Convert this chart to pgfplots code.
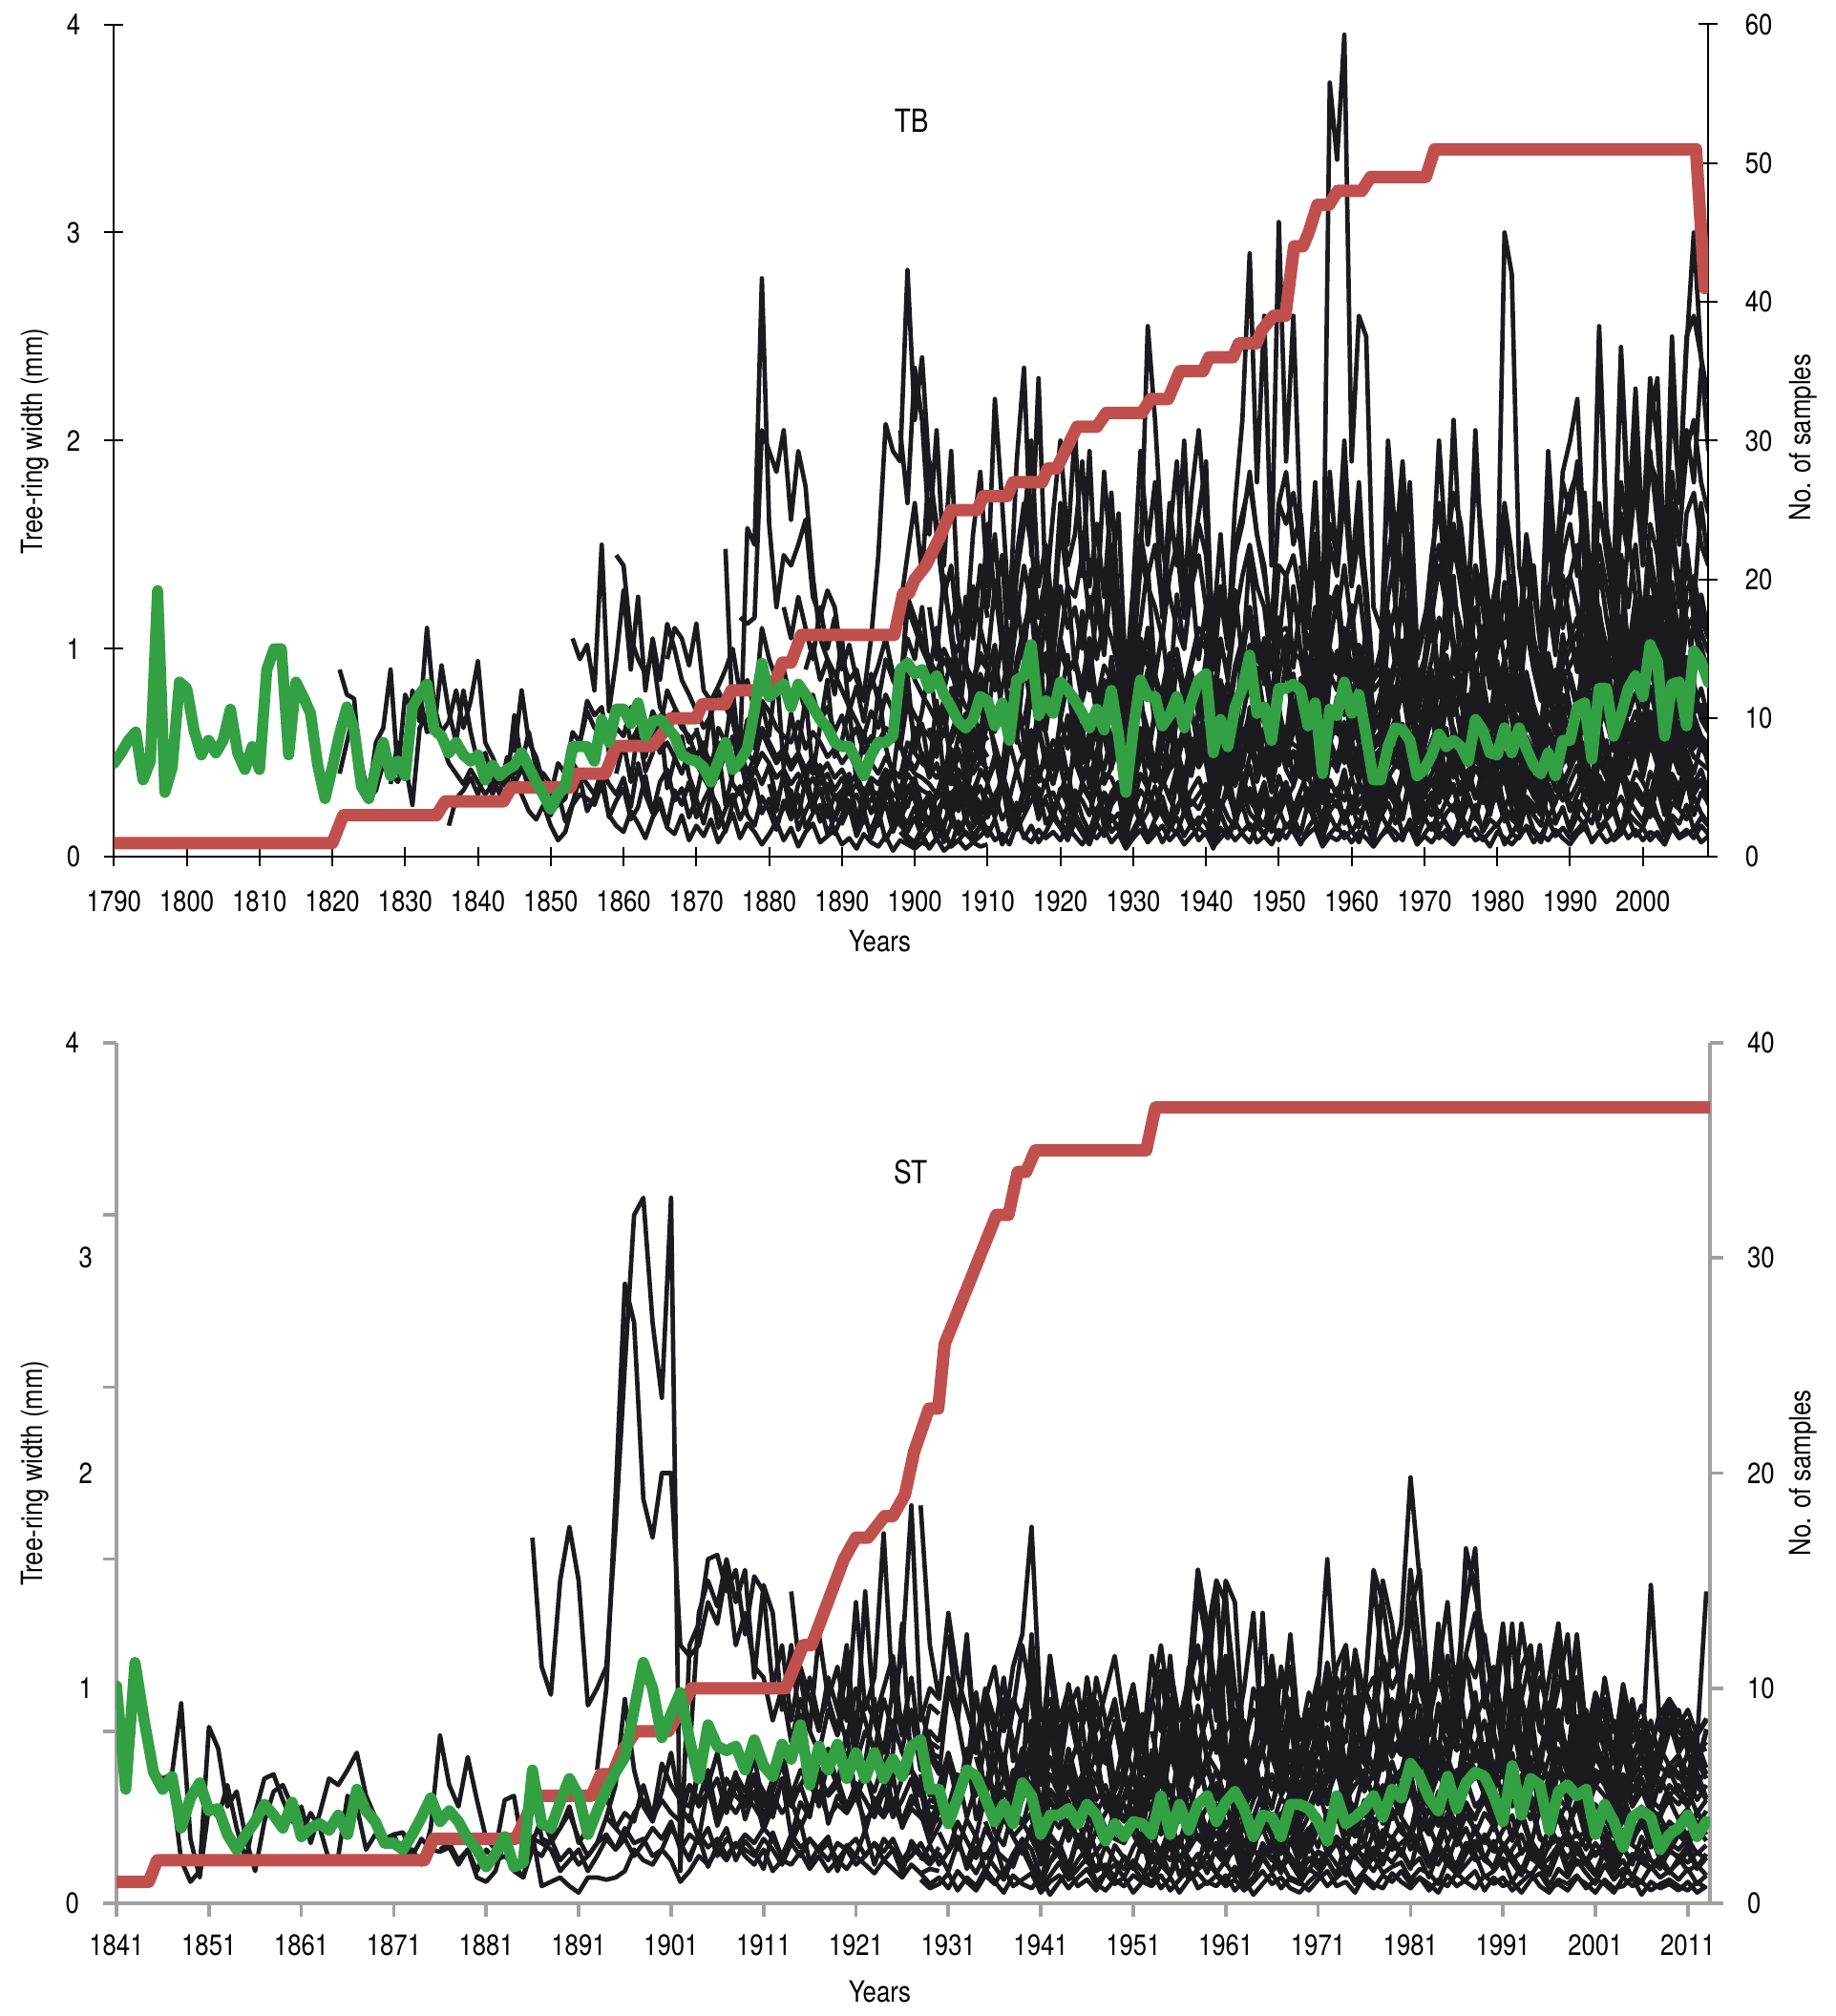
\documentclass[border=0pt]{standalone}
\usepackage{fontspec}
\setmainfont{TeX Gyre Heros}[FakeStretch=0.84]
\usepackage{pgfplots}
\usepackage{pgfplotstable}
\pgfplotsset{compat=1.18}
\definecolor{redc}{RGB}{192,80,77}
\definecolor{greenc}{RGB}{51,160,68}
\definecolor{blk}{RGB}{27,27,31}
\definecolor{gax}{RGB}{160,160,160}
\newcommand{\tf}{\fontsize{9.2}{11}\selectfont}

% ---------- TB: early series (rows = series, columns = years 1821-1910)
\pgfplotstableread[header=true]{
name 1821 1822 1823 1824 1825 1826 1827 1828 1829 1830 1831 1832 1833 1834 1835 1836 1837 1838 1839 1840 1841 1842 1843 1844 1845 1846 1847 1848 1849 1850 1851 1852 1853 1854 1855 1856 1857 1858 1859 1860 1861 1862 1863 1864 1865 1866 1867 1868 1869 1870 1871 1872 1873 1874 1875 1876 1877 1878 1879 1880 1881 1882 1883 1884 1885 1886 1887 1888 1889 1890 1891 1892 1893 1894 1895 1896 1897 1898 1899 1900 1901 1902 1903 1904 1905 1906 1907 1908 1909 1910
a 0.90 0.78 0.76 0.35 0.30 0.55 0.62 0.90 0.40  0.78 0.70 0.78 0.60 0.62 0.92 0.70 0.55 0.80 0.60  0.45 0.50 0.38 0.30 0.48 0.40 0.45 0.32 0.38 0.30  0.22 0.25 0.28 0.45 0.40 0.35 0.30 0.42 0.35 0.30  0.38 0.24 0.45 0.30 0.21 0.36 0.42 0.27 0.33 0.19  0.28 0.16 0.31 0.24 0.12 0.26 0.34 0.20 0.15 0.29  0.22 0.13 0.27 0.18 0.30 0.14 0.21 0.25 0.11 0.19  0.16 0.24 0.10 0.18 0.13 0.22 0.08 0.15 0.20 0.12  0.19 0.09 0.14 0.21 0.07 0.16 0.12 0.18 0.10 0.15  0.13
b 0.40 0.55 0.70 0.45 0.28 0.32 0.45 0.40 0.36  0.45 0.25 0.62 0.68 0.65 0.55 0.45 0.40 0.35 0.42  0.36 0.30 0.35 0.42 0.32 0.38 0.30 0.22 0.18 0.25  0.15 0.08 0.12 0.25 0.30 0.28 0.25 0.35 0.20 0.15  0.12 0.22 0.16 0.09 0.19 0.25 0.14 0.11 0.20 0.08  0.15 0.10 0.18 0.07 0.13 0.21 0.09 0.16 0.12 0.06  0.11 0.17 0.08 0.14 0.05 0.12 0.16 0.07 0.10 0.13  0.06 0.09 0.04 0.11 0.07 0.05 0.10 0.03 0.08 0.06  0.04 0.07 0.05 0.09 0.03 0.06 0.08 0.04 0.07 0.05  0.06
c nan nan nan nan nan nan nan 0.35 0.55  0.38 0.80 0.65 1.10 0.72 0.60 0.65 0.80 0.62 0.75  0.94 0.55 0.48 0.40 0.35 0.68 0.45 0.60 0.42 0.40  0.35 0.30 0.38 0.48 0.55 0.70 0.62 0.60 0.55 0.68  0.72 0.55 0.62 0.48 0.62 0.50 0.55 0.48 0.40 0.52  0.45 0.38 0.32 0.40 0.50 0.35 0.30 0.38 0.42 0.50  0.45 0.38 0.42 0.35 0.40 0.32 0.38 0.30 0.35 0.28  0.32 0.25 0.30 0.22 0.28 0.25 0.30 0.26 0.22 0.32  0.28 0.25 0.30 0.22 0.25 0.20 0.28 0.24 0.30 0.26  0.22
d nan nan nan nan nan nan nan nan nan  nan nan nan nan nan nan 0.15 0.28 0.32 0.38  0.30 0.42 0.30 0.38 0.45 0.35 0.42 0.38 0.32 0.28  0.20 0.31 0.17 0.26 0.38 0.22 0.29 0.41 0.19 0.27  0.33 0.18 0.24 0.39 0.21 0.28 0.15 0.32 0.25 0.36  0.19 0.27 0.34 0.14 0.23 0.30 0.18 0.26 0.37 0.21  0.28 0.16 0.24 0.32 0.13 0.22 0.29 0.17 0.25 0.11  0.20 0.27 0.14 0.23 0.09 0.18 0.26 0.12 0.21 0.16  0.24 0.13 0.19 0.08 0.17 0.22 0.11 0.18 0.14 0.20  0.12
e nan nan nan nan nan nan nan nan nan  nan nan nan nan nan nan nan nan nan nan  nan nan nan nan nan 0.50 0.80 0.55 0.48 0.35  0.30 0.45 0.40 0.60 0.55 0.75 0.68 0.72 0.50 0.62  0.58 0.72 0.65 0.55 0.70 0.62 0.80 0.72 0.65 0.55  0.60 0.52 0.45 0.55 0.48 0.58 0.42 0.50 0.45 0.62  0.55 0.48 0.52 0.45 0.50 0.42 0.48 0.40 0.45 0.38  0.42 0.35 0.40 0.30 0.38 0.35 0.42 0.38 0.32 0.45  0.40 0.38 0.35 0.30 0.38 0.35 0.42 0.36 0.32 0.40  0.38
f nan nan nan nan nan nan nan nan nan  nan nan nan nan nan nan nan nan nan nan  nan nan nan nan nan nan nan nan nan nan  nan nan nan 1.05 0.95 1.02 0.80 1.50 0.70 0.95  1.28 0.90 1.25 0.80 1.05 0.85 1.12 1.00 0.85 0.78  0.70 0.62 0.68 0.80 0.72 0.65 0.55 0.62 0.58 0.75  0.70 0.62 0.58 0.55 0.65 0.52 0.60 0.55 0.48 0.52  0.45 0.50 0.42 0.38 0.45 0.40 0.48 0.42 0.38 0.55  0.50 0.45 0.42 0.38 0.45 0.40 0.48 0.44 0.40 0.46  0.42
g nan nan nan nan nan nan nan nan nan  nan nan nan nan nan nan nan nan nan nan  nan nan nan nan nan nan nan nan nan nan  nan nan nan nan nan nan nan nan nan 1.45  1.40 1.05 0.95 0.88 0.98 0.72 0.65 0.70 0.62 0.58  0.48 0.55 0.40 0.62 0.55 0.45 0.52 0.40 0.48 0.60  0.52 0.45 0.50 0.42 0.48 0.38 0.45 0.35 0.40 0.32  0.38 0.30 0.35 0.28 0.32 0.30 0.35 0.30 0.28 0.40  0.35 0.32 0.30 0.28 0.32 0.30 0.35 0.30 0.28 0.33  0.30
h nan nan nan nan nan nan nan nan nan  nan nan nan nan nan nan nan nan nan nan  nan nan nan nan nan nan nan nan nan nan  nan nan nan nan nan nan nan nan nan 0.40  0.55 0.36 0.62 0.41 0.50 0.68 0.33 0.47 0.58 0.39  0.29 0.46 0.37 0.52 0.25 0.40 0.48 0.31 0.43 0.35  0.44 0.27 0.38 0.21 0.35 0.42 0.24 0.33 0.19 0.30  0.23 0.36 0.17 0.28 0.32 0.20 0.39 0.26 0.15 0.34  0.27 0.18 0.31 0.22 0.14 0.29 0.24 0.35 0.19 0.26  0.21
i nan nan nan nan nan nan nan nan nan  nan nan nan nan nan nan nan nan nan nan  nan nan nan nan nan nan nan nan nan nan  nan nan nan nan nan nan nan nan nan nan  nan nan nan nan nan nan 0.95 1.10 1.05 0.92  1.12 0.80 0.75 0.82 0.90 1.00 0.78 0.85 0.70 1.10  0.95 0.85 0.90 0.75 0.82 0.70 0.78 0.65 0.72 0.60  0.68 0.55 0.62 0.50 0.58 0.55 0.62 0.58 0.52 0.75  0.68 0.62 0.58 0.52 0.60 0.55 0.65 0.58 0.52 0.62  0.56
j nan nan nan nan nan nan nan nan nan  nan nan nan nan nan nan nan nan nan nan  nan nan nan nan nan nan nan nan nan nan  nan nan nan nan nan nan nan nan nan nan  nan nan nan nan nan nan nan nan nan nan  nan nan nan nan 1.48 0.65 0.50 1.58 1.50 2.78  1.60 1.20 1.45 1.40 1.50 1.62 1.25 1.15 1.28 1.20  0.95 0.85 0.90 0.75 0.82 0.92 1.05 0.88 0.80 1.20  1.10 1.00 0.92 0.85 0.95 0.88 0.80 0.92 0.85 0.95  0.90
k nan nan nan nan nan nan nan nan nan  nan nan nan nan nan nan nan nan nan nan  nan nan nan nan nan nan nan nan nan nan  nan nan nan nan nan nan nan nan nan nan  nan nan nan nan nan nan nan nan nan nan  nan nan nan nan nan nan 1.15 1.12 1.15 2.05  1.95 1.85 2.05 1.62 1.95 1.78 1.35 1.05 0.95 0.88  0.80 0.72 0.65 0.58 0.70 0.62 0.78 0.70 0.65 0.95  0.85 0.78 0.72 0.65 0.75 0.70 0.80 0.72 0.68 0.74  0.70
l nan nan nan nan nan nan nan nan nan  nan nan nan nan nan nan nan nan nan nan  nan nan nan nan nan nan nan nan nan nan  nan nan nan nan nan nan nan nan nan nan  nan nan nan nan nan nan nan nan nan nan  nan nan nan nan nan nan nan nan nan nan  nan nan 1.20 1.05 1.25 1.10 0.95 1.20 1.00 1.15  0.90 1.02 0.85 0.78 1.05 1.45 2.08 1.95 1.90 2.82  2.10 2.40 1.85 1.60 1.30 1.10 1.25 1.05 1.20 1.35  1.15
m nan nan nan nan nan nan nan nan nan  nan nan nan nan nan nan nan nan nan nan  nan nan nan nan nan nan nan nan nan nan  nan nan nan nan nan nan nan nan nan nan  nan nan nan nan nan nan nan nan nan nan  nan nan nan nan nan nan nan nan nan nan  nan nan nan nan nan 0.35 0.22 0.44 0.28 0.18  0.31 0.40 0.19 0.26 0.36 0.15 0.29 0.43 0.21 0.33  0.38 0.24 0.16 0.30 0.41 0.20 0.27 0.34 0.17 0.25  0.29
n nan nan nan nan nan nan nan nan nan  nan nan nan nan nan nan nan nan nan nan  nan nan nan nan nan nan nan nan nan nan  nan nan nan nan nan nan nan nan nan nan  nan nan nan nan nan nan nan nan nan nan  nan nan nan nan nan nan nan nan nan nan  nan nan nan nan nan 0.90 1.02 0.85 0.95 0.78  1.05 0.70 0.82 0.65 0.88 0.75 0.95 0.85 0.78 1.25  1.15 1.05 0.95 0.88 1.00 0.92 1.02 0.90 0.85 0.98  0.92
o nan nan nan nan nan nan nan nan nan  nan nan nan nan nan nan nan nan nan nan  nan nan nan nan nan nan nan nan nan nan  nan nan nan nan nan nan nan nan nan nan  nan nan nan nan nan nan nan nan nan nan  0.62 0.45 0.71 0.38 0.55 0.80 0.47 0.66 0.52 0.74  0.58 0.90 0.43 0.69 0.51 0.77 0.40 0.63 0.85 0.48  0.56 0.72 0.35 0.60 0.46 0.81 0.53 0.39 0.67 0.88  0.50 0.64 0.42 0.75 0.37 0.59 0.70 0.45 0.62 0.54  0.48
p nan nan nan nan nan nan nan nan nan  nan nan nan nan nan nan nan nan nan nan  nan nan nan nan nan nan nan nan nan nan  nan nan nan nan nan nan nan nan nan nan  nan nan nan nan nan nan nan nan nan nan  nan nan nan nan nan nan nan nan nan nan  0.35 0.22 0.41 0.28 0.19 0.37 0.25 0.44 0.30 0.18  0.26 0.39 0.15 0.33 0.21 0.29 0.42 0.17 0.31 0.24  0.36 0.20 0.27 0.13 0.32 0.23 0.38 0.19 0.28 0.34  0.22
}\TAraw
\pgfplotstabletranspose[colnames from=name]{\TA}{\TAraw}

% ---------- TB: later series (years 1898-2009)
\pgfplotstableread[header=true]{
name 1898 1899 1900 1901 1902 1903 1904 1905 1906 1907 1908 1909 1910 1911 1912 1913 1914 1915 1916 1917 1918 1919 1920 1921 1922 1923 1924 1925 1926 1927 1928 1929 1930 1931 1932 1933 1934 1935 1936 1937 1938 1939 1940 1941 1942 1943 1944 1945 1946 1947 1948 1949 1950 1951 1952 1953 1954 1955 1956 1957 1958 1959 1960 1961 1962 1963 1964 1965 1966 1967 1968 1969 1970 1971 1972 1973 1974 1975 1976 1977 1978 1979 1980 1981 1982 1983 1984 1985 1986 1987 1988 1989 1990 1991 1992 1993 1994 1995 1996 1997 1998 1999 2000 2001 2002 2003 2004 2005 2006 2007 2008 2009
q1 2.05 1.70  2.35 2.10 1.55 2.05 1.40 1.95 1.20 1.05 1.55 1.85  1.30 2.20 1.70 1.15 1.90 2.35 1.45 2.30 1.25 1.65  2.00 1.50 2.05 1.35 1.95 1.20 1.85 1.40 1.65 0.85  1.30 1.95 1.50 1.80 1.15 1.55 1.90 1.25 1.75 2.05  1.60 1.10 1.55 1.05 1.70 2.10 2.90 1.80 2.60 1.40  3.05 1.90 2.60 1.55 1.25 1.80 1.05 1.85 1.40 2.00  1.35 1.80 1.20 0.85 1.00 1.85 1.20 1.75 1.10 0.95  1.10 1.45 1.70 1.30 2.10 1.40 1.15 2.05 1.30 1.05  1.25 1.65 1.10 0.95 1.45 1.05 0.90 1.70 1.25 1.85  2.00 2.20 1.45 1.10 2.50 1.55 1.25 2.40 1.60 2.25  1.50 2.10 2.30 1.35 2.50 1.70 2.45 3.00 2.40 2.20
q2 1.20 1.45  1.70 1.35 1.90 1.55 1.25 1.40 1.05 0.95 1.30 1.10  1.60 1.25 1.45 0.90 1.35 1.60 2.00 1.30 1.50 1.15  1.70 1.40 1.55 1.90 1.30 1.60 1.25 1.75 1.20 0.70  1.10 1.55 1.35 1.50 1.20 1.70 1.40 2.00 1.30 1.60  1.45 0.95 1.30 1.05 1.50 1.65 1.80 1.55 1.35 1.10  1.70 1.85 1.50 1.65 1.20 1.55 0.95 3.72 3.35 3.95  1.90 2.60 2.50 1.20 1.10 1.45 1.65 1.30 1.55 1.00  1.15 1.30 1.50 1.25 1.60 1.35 1.10 1.40 1.20 0.95  1.25 1.05 1.35 0.90 1.15 1.40 1.00 1.30 1.10 1.45  1.60 1.35 1.75 1.20 1.50 1.30 1.10 1.65 1.45 1.80  1.40 1.95 1.60 1.15 1.70 1.50 2.05 1.80 2.35 nan
q3 nan nan  nan nan 1.20 0.95 1.35 1.05 0.80 0.90 0.75 1.10  0.95 1.30 1.00 0.85 1.15 1.40 1.20 1.05 1.25 0.95  1.30 1.10 1.20 1.00 1.25 0.95 1.15 1.05 0.90 0.50  0.95 1.40 2.55 2.10 1.50 1.25 1.10 1.00 1.30 1.45  1.20 0.75 1.05 0.85 1.15 1.35 1.50 1.30 1.20 0.90  1.40 1.35 1.45 1.25 1.00 1.20 0.72 1.25 1.15 1.40  1.10 1.30 1.00 0.70 0.75 1.05 1.20 1.15 1.05 0.72  0.80 0.95 1.15 1.00 1.25 1.10 0.90 1.20 1.00 0.85  1.05 1.25 1.00 0.80 1.10 0.90 0.75 1.20 1.00 1.30  1.35 1.50 1.10 0.90 1.40 1.15 0.95 1.45 1.20 1.50  1.10 1.60 1.45 0.95 1.55 1.20 1.65 1.75 1.50 1.40
q4 0.85 1.05  0.95 1.20 0.88 1.10 0.80 0.95 0.70 0.62 0.85 0.72  0.90 0.80 1.05 0.65 0.95 1.10 1.25 0.85 0.98 0.78  1.05 0.90 0.95 0.82 1.00 0.75 0.92 0.85 0.70 0.40  0.80 1.05 0.95 0.88 0.75 0.92 1.00 0.80 0.95 1.10  1.05 0.60 0.85 0.70 0.92 1.05 1.20 1.00 0.95 0.72  1.08 1.10 1.02 1.00 0.80 0.95 0.55 1.00 0.92 1.10  0.90 1.02 0.82 0.56 0.60 0.82 0.95 0.92 0.85 0.58  0.64 0.76 0.90 0.80 0.98 0.85 0.70 0.92 0.78 0.65  0.80 0.95 0.75 0.62 0.85 0.70 0.58 0.90 0.78 0.98  1.05 1.15 0.85 0.70 1.10 0.90 0.75 1.12 0.95 1.20  0.88 1.25 1.10 0.72 1.20 0.95 1.28 1.35 1.15 1.05
q5 0.62 0.78  0.55 0.70 0.92 0.66 0.58 0.80 0.74 0.50 0.68 0.88  0.76 0.60 0.82 0.95 0.70 0.64 0.86 0.58 0.72 1.00  0.66 0.84 0.56 0.78 0.90 0.68 0.62 0.96 0.74 0.35  0.58 0.72 0.90 0.64 0.80 0.98 0.70 0.60 0.86 0.76  0.92 0.42 0.66 0.78 0.58 0.84 1.02 0.72 0.64 0.80  0.70 0.94 0.62 0.86 0.74 0.56 0.40 0.88 0.96 0.68  0.82 0.60 0.76 0.44 0.52 0.90 0.66 0.80 0.58 0.42  0.70 0.84 0.60 0.92 0.68 0.78 0.54 0.86 0.72 0.62  0.94 0.66 0.78 0.56 0.84 0.70 0.50 0.76 0.90 0.64  0.88 0.74 0.96 0.62 0.80 1.02 0.68 0.84 0.72 1.05  0.78 0.92 1.10 0.64 0.86 1.00 0.74 1.15 0.90 0.82
q6 0.55 0.42  0.62 0.48 0.40 0.58 0.70 0.45 0.52 0.38 0.60 0.46  0.66 0.54 0.42 0.72 0.58 0.48 0.80 0.62 0.44 0.56  0.50 0.68 0.60 0.46 0.52 0.74 0.58 0.42 0.64 0.25  0.45 0.62 0.50 0.70 0.56 0.44 0.66 0.74 0.52 0.60  0.48 0.30 0.58 0.50 0.64 0.46 0.72 0.56 0.62 0.40  0.66 0.52 0.74 0.48 0.60 0.70 0.32 0.56 0.64 0.50  0.70 0.54 0.46 0.30 0.38 0.58 0.66 0.48 0.60 0.34  0.42 0.56 0.64 0.50 0.44 0.62 0.70 0.48 0.58 0.40  0.52 0.66 0.44 0.36 0.58 0.50 0.40 0.62 0.54 0.70  0.60 0.48 0.72 0.52 0.66 0.46 0.56 0.74 0.62 0.58  0.68 0.54 0.80 0.50 0.62 0.76 0.58 0.84 0.66 0.60
q7 0.40 0.48  0.42 0.50 0.38 0.45 0.32 0.40 0.30 0.35 0.28 0.42  0.36 0.45 0.40 0.28 0.42 0.50 0.55 0.40 0.45 0.35  0.48 0.40 0.46 0.36 0.42 0.32 0.40 0.38 0.30 0.16  0.34 0.48 0.44 0.40 0.34 0.42 0.46 0.38 0.44 0.50  0.46 0.26 0.40 0.32 0.44 0.48 0.54 0.46 0.44 0.34  0.50 0.52 0.48 0.46 0.37 0.44 0.26 0.46 0.42 0.52  0.40 0.47 0.38 0.26 0.28 0.38 0.44 0.42 0.40 0.27  0.30 0.35 0.42 0.37 0.45 0.40 0.32 0.43 0.36 0.30  0.37 0.44 0.34 0.28 0.40 0.33 0.27 0.42 0.36 0.45  0.48 0.52 0.40 0.32 0.50 0.42 0.35 0.52 0.44 0.55  0.40 0.56 0.50 0.34 0.54 0.44 0.58 0.60 0.52 0.48
q8 0.18 0.26  0.31 0.20 0.14 0.22 0.28 0.17 0.12 0.19 0.25 0.15  0.21 0.30 0.18 0.24 0.13 0.20 0.27 0.33 0.16 0.22  0.14 0.25 0.31 0.19 0.12 0.23 0.29 0.17 0.21 0.09  0.26 0.16 0.22 0.34 0.20 0.13 0.24 0.30 0.18 0.15  0.23 0.11 0.27 0.19 0.14 0.32 0.21 0.17 0.28 0.12  0.20 0.29 0.15 0.24 0.33 0.18 0.10 0.22 0.27 0.16  0.25 0.14 0.30 0.12 0.19 0.26 0.16 0.23 0.31 0.11  0.18 0.28 0.13 0.21 0.25 0.15 0.30 0.19 0.14 0.24  0.29 0.17 0.22 0.12 0.26 0.20 0.15 0.32 0.18 0.23  0.14 0.27 0.21 0.16 0.30 0.19 0.25 0.13 0.28 0.22  0.17 0.31 0.20 0.14 0.26 0.23 0.18 0.29 0.21 0.16
q9 0.12 0.08  0.06 0.11 0.04 0.09 0.13 0.05 0.08 0.12 0.07 0.10  0.14 0.08 0.11 0.06 0.16 0.10 0.07 0.13 0.09 0.12  0.08 0.15 0.10 0.06 0.12 0.09 0.14 0.07 0.11 0.04  0.09 0.13 0.07 0.11 0.15 0.08 0.12 0.06 0.10 0.14  0.11 0.05 0.09 0.13 0.08 0.12 0.16 0.07 0.10 0.06  0.13 0.09 0.15 0.07 0.11 0.14 0.05 0.10 0.08 0.12  0.07 0.12 0.09 0.05 0.10 0.13 0.08 0.11 0.14 0.06  0.10 0.07 0.12 0.09 0.06 0.11 0.13 0.08 0.10 0.05  0.12 0.09 0.06 0.10 0.14 0.07 0.11 0.08 0.13 0.09  0.06 0.11 0.14 0.08 0.12 0.07 0.10 0.15 0.09 0.13  0.08 0.12 0.10 0.06 0.14 0.09 0.11 0.13 0.07 0.10
q10 nan nan  nan nan nan nan nan 1.10 0.85 1.25 1.05 1.40  1.20 1.55 1.10 0.95 1.45 1.70 1.50 1.15 1.35 1.05  1.60 1.30 1.25 1.45 1.15 1.35 1.05 1.50 1.10 0.60  1.05 1.45 1.30 1.20 1.05 1.35 1.50 1.15 1.40 1.65  1.90 0.90 1.25 1.00 1.45 1.60 1.85 1.55 1.40 1.05  1.70 1.60 1.75 1.50 1.20 1.45 0.85 1.50 1.35 1.75  1.30 1.55 1.20 0.80 0.85 1.25 1.45 1.90 1.35 0.85  0.95 1.15 1.40 1.20 1.50 1.30 1.05 1.40 1.25 1.00  1.20 3.00 2.80 1.40 1.15 1.30 1.00 1.55 1.25 1.60  1.75 1.85 1.40 1.10 1.70 1.45 1.20 1.80 1.55 1.95  1.45 1.90 1.80 1.20 1.85 1.55 1.95 2.10 1.80 1.65
q11 nan nan  nan nan nan nan nan 0.75 0.60 0.50 0.72 0.85  0.65 0.95 0.70 0.55 0.90 1.05 1.20 0.80 0.95 0.70  1.00 0.88 0.95 0.75 0.90 0.70 0.85 0.80 0.62 0.35  0.70 1.00 0.92 0.85 0.72 0.90 0.95 0.78 0.92 1.05  1.00 0.55 0.80 0.65 0.88 1.00 1.15 0.95 0.90 0.68  1.02 1.05 0.98 0.95 0.76 0.90 0.52 0.95 0.88 1.05  0.85 0.96 0.78 0.52 0.56 0.78 0.90 0.88 0.80 0.54  0.60 0.72 0.86 0.76 0.92 0.80 0.66 0.88 0.74 0.62  0.76 0.90 0.72 0.60 0.82 0.68 0.56 0.86 0.74 0.92  1.00 1.08 0.80 0.66 1.05 0.85 0.70 1.06 0.90 1.12  0.82 1.18 1.04 0.70 1.12 0.90 1.20 1.26 1.08 0.98
q12 nan nan  nan nan nan nan nan nan nan nan nan nan  nan nan nan nan nan 0.55 0.40 0.62 0.48 0.35  0.52 0.66 0.44 0.58 0.38 0.50 0.70 0.46 0.56 0.22  0.42 0.60 0.48 0.36 0.54 0.68 0.45 0.58 0.40 0.52  0.64 0.28 0.48 0.56 0.40 0.62 0.50 0.70 0.44 0.34  0.58 0.46 0.66 0.52 0.40 0.60 0.26 0.54 0.68 0.48  0.56 0.42 0.62 0.30 0.36 0.50 0.64 0.44 0.58 0.28  0.40 0.54 0.46 0.62 0.38 0.52 0.44 0.66 0.50 0.36  0.58 0.48 0.40 0.30 0.54 0.44 0.34 0.60 0.46 0.62  0.52 0.66 0.44 0.38 0.60 0.50 0.42 0.68 0.56 0.64  0.48 0.70 0.58 0.40 0.66 0.52 0.72 0.62 0.56 0.50
q13 nan nan  nan nan nan nan nan nan nan nan nan nan  nan nan nan nan nan nan nan nan nan nan  nan nan nan nan nan nan nan nan nan nan  0.40 0.55 0.48 0.42 0.38 0.45 0.50 0.40 0.48 0.55  0.52 0.30 0.44 0.36 0.50 0.56 0.62 0.52 0.50 0.38  0.56 0.58 0.54 0.52 0.42 0.50 0.30 0.52 0.48 0.58  0.46 0.53 0.43 0.29 0.31 0.43 0.50 0.48 0.45 0.30  0.33 0.40 0.47 0.42 0.50 0.45 0.36 0.48 0.40 0.34  0.42 0.50 0.38 0.32 0.45 0.37 0.30 0.47 0.40 0.50  0.54 0.58 0.45 0.36 0.56 0.47 0.39 0.58 0.50 0.62  0.45 0.62 0.56 0.38 0.60 0.48 0.64 0.68 0.58 0.54
q14 nan nan  nan nan nan nan nan nan nan nan nan nan  nan nan nan nan nan nan nan nan nan nan  nan nan nan nan nan nan nan nan nan nan  nan nan nan nan nan nan nan nan nan nan  nan nan nan nan nan nan nan nan nan nan  nan nan nan 1.40 1.10 1.55 0.90 1.60 1.45 1.85  1.40 1.65 1.30 0.85 0.90 2.00 1.55 1.35 1.80 1.00  1.10 1.30 2.00 1.45 1.75 1.60 1.25 1.85 1.50 1.15  1.35 1.70 1.45 1.05 1.55 1.30 1.00 1.95 1.40 1.80  1.65 1.90 1.50 1.20 2.55 1.60 1.35 2.45 1.70 2.10  1.55 2.30 2.00 1.40 2.20 1.75 2.50 2.60 2.40 1.95
q15 nan nan  nan nan nan nan nan nan nan nan nan nan  nan nan nan nan nan nan nan nan nan nan  nan nan nan nan nan nan nan nan nan nan  nan nan nan nan nan nan nan nan nan nan  nan nan nan nan nan nan nan nan nan nan  nan nan nan 0.85 0.65 0.82 0.48 0.88 0.80 0.98  0.78 0.90 0.72 0.48 0.52 0.72 0.82 0.80 0.74 0.50  0.55 0.66 0.80 0.70 0.85 0.74 0.60 0.82 0.68 0.56  0.70 0.84 0.66 0.54 0.76 0.62 0.50 0.80 0.68 0.86  0.92 1.00 0.74 0.60 0.96 0.78 0.64 0.98 0.82 1.04  0.76 1.08 0.96 0.64 1.04 0.82 1.10 1.16 1.00 0.90
q16 nan nan  nan nan nan nan nan nan nan nan nan nan  nan nan nan nan nan nan nan nan nan nan  nan nan nan nan nan nan nan nan nan nan  nan nan nan nan nan nan nan nan nan nan  nan nan nan nan nan nan nan nan nan nan  nan nan nan nan nan nan nan nan nan nan  nan nan nan 0.70 0.60 1.05 1.20 0.85 1.30 0.75  0.95 1.25 0.80 1.10 1.35 0.90 1.05 1.40 0.85 1.15  1.00 1.30 0.90 0.75 1.20 1.05 0.80 1.25 1.50 1.10  1.35 1.20 0.95 1.45 1.15 0.85 1.30 1.05 1.55 1.25  1.10 1.45 1.25 0.90 1.60 1.30 1.50 1.20 1.70 1.40
q17 nan nan  nan nan nan nan nan nan nan nan nan nan  nan nan nan nan nan nan nan nan nan nan  nan nan nan nan nan nan nan nan nan nan  nan nan nan nan nan nan nan nan nan nan  nan nan nan nan nan nan nan nan nan nan  nan nan nan nan nan nan nan nan nan nan  nan nan nan nan nan nan nan nan nan nan  nan nan 0.40 0.32 0.45 0.30 0.38 0.28 0.42 0.35  0.30 0.44 0.36 0.25 0.40 0.32 0.22 0.38 0.45 0.34  0.42 0.50 0.36 0.28 0.46 0.38 0.32 0.48 0.40 0.52  0.38 0.55 0.44 0.30 0.50 0.40 0.56 0.48 0.45 0.42
q18 nan nan  nan nan nan nan nan 0.32 0.22 0.38 0.27 0.19  0.35 0.24 0.41 0.29 0.20 0.33 0.45 0.26 0.37 0.23  0.30 0.42 0.21 0.34 0.28 0.39 0.18 0.31 0.36 0.14  0.25 0.40 0.33 0.22 0.37 0.29 0.43 0.24 0.32 0.38  0.27 0.16 0.35 0.41 0.23 0.30 0.44 0.26 0.36 0.20  0.39 0.28 0.34 0.46 0.25 0.31 0.17 0.37 0.29 0.42  0.24 0.36 0.30 0.18 0.27 0.40 0.33 0.22 0.38 0.19  0.31 0.25 0.39 0.28 0.35 0.21 0.42 0.30 0.26 0.34  0.40 0.23 0.32 0.19 0.37 0.29 0.24 0.41 0.33 0.27  0.36 0.44 0.28 0.22 0.39 0.31 0.26 0.43 0.35 0.30  0.25 0.41 0.34 0.20 0.38 0.29 0.45 0.33 0.37 0.28
q19 nan nan  nan nan 0.62 0.48 0.75 0.40 0.58 0.69 0.44 0.53  0.71 0.50 0.38 0.64 0.80 0.55 0.46 0.73 0.59 0.42  0.66 0.52 0.78 0.45 0.60 0.37 0.70 0.57 0.49 0.28  0.54 0.74 0.61 0.43 0.68 0.82 0.50 0.63 0.39 0.72  0.58 0.34 0.65 0.47 0.76 0.56 0.69 0.41 0.62 0.51  0.73 0.48 0.60 0.84 0.52 0.67 0.36 0.59 0.77 0.45  0.63 0.55 0.71 0.33 0.47 0.64 0.79 0.50 0.58 0.40  0.52 0.69 0.46 0.75 0.57 0.43 0.66 0.81 0.54 0.48  0.61 0.72 0.49 0.38 0.65 0.56 0.44 0.70 0.59 0.78  0.67 0.53 0.80 0.46 0.62 0.74 0.51 0.85 0.60 0.70  0.55 0.82 0.64 0.47 0.76 0.58 0.88 0.69 0.73 0.61
q20 nan nan  nan nan nan 0.45 0.33 0.52 0.38 0.27 0.46 0.58  0.36 0.49 0.31 0.55 0.42 0.29 0.60 0.40 0.34 0.51  0.44 0.28 0.57 0.39 0.48 0.62 0.35 0.43 0.53 0.20  0.41 0.56 0.32 0.47 0.38 0.61 0.45 0.30 0.54 0.43  0.50 0.24 0.39 0.58 0.34 0.46 0.63 0.37 0.48 0.31  0.55 0.42 0.35 0.60 0.47 0.38 0.26 0.52 0.44 0.59  0.40 0.49 0.33 0.22 0.36 0.54 0.43 0.57 0.32 0.25  0.37 0.51 0.44 0.30 0.58 0.41 0.35 0.55 0.46 0.33  0.48 0.39 0.61 0.34 0.45 0.29 0.52 0.40 0.57 0.36  0.43 0.62 0.38 0.31 0.50 0.56 0.35 0.60 0.42 0.53  0.39 0.58 0.47 0.33 0.64 0.44 0.51 0.40 0.55 0.46
q21 nan nan  nan nan nan nan nan 0.82 0.64 0.95 0.70 0.58  0.88 1.02 0.66 0.79 0.55 0.93 0.72 1.08 0.61 0.85  0.74 0.97 0.59 0.83 1.05 0.68 0.77 0.90 0.63 0.41  0.71 0.86 1.10 0.65 0.80 0.57 0.94 0.75 0.89 0.67  0.96 0.50 0.73 0.84 0.62 1.00 0.78 0.91 0.69 0.56  0.87 1.06 0.70 0.81 0.64 0.92 0.48 0.85 0.99 0.72  0.80 0.66 0.95 0.52 0.60 0.88 0.76 1.04 0.69 0.55  0.74 0.90 0.63 0.97 0.79 0.58 1.01 0.71 0.86 0.65  0.93 0.77 0.68 0.54 0.89 0.73 0.62 0.98 0.81 1.07  0.85 0.70 1.03 0.66 0.92 0.78 0.60 1.09 0.84 0.95  0.72 1.12 0.88 0.64 0.99 0.80 1.15 0.91 1.02 0.86
q22 nan nan  nan nan nan nan nan nan nan nan nan nan  0.28 0.19 0.34 0.24 0.16 0.30 0.38 0.22 0.27 0.18  0.33 0.25 0.20 0.36 0.29 0.17 0.31 0.26 0.35 0.12  0.23 0.32 0.27 0.19 0.37 0.28 0.21 0.34 0.25 0.30  0.35 0.14 0.24 0.31 0.20 0.39 0.27 0.22 0.33 0.18  0.29 0.36 0.23 0.32 0.41 0.26 0.15 0.30 0.24 0.37  0.21 0.33 0.28 0.13 0.19 0.31 0.25 0.38 0.29 0.16  0.26 0.20 0.34 0.27 0.22 0.36 0.30 0.18 0.32 0.24  0.31 0.38 0.23 0.17 0.29 0.25 0.20 0.35 0.27 0.33  0.22 0.30 0.37 0.24 0.34 0.19 0.28 0.40 0.26 0.35  0.29 0.24 0.39 0.21 0.33 0.27 0.42 0.30 0.36 0.25
q23 nan nan  nan nan nan nan nan nan nan nan nan nan  nan nan 1.10 0.82 1.25 0.95 1.38 0.88 1.15 0.76  1.05 1.30 0.90 1.18 0.80 1.22 0.97 1.35 0.85 0.55  0.92 1.12 1.40 0.87 1.08 0.78 1.26 1.00 1.33 0.95  1.20 0.68 1.02 0.89 1.28 0.94 1.45 1.10 0.83 1.16  1.03 1.36 0.91 1.24 0.86 1.14 0.60 1.19 1.30 0.98  1.21 0.84 1.09 0.66 0.79 1.17 0.96 1.31 0.88 0.70  0.93 1.15 0.81 1.27 1.04 0.90 1.22 0.99 1.11 0.85  1.18 0.94 1.06 0.75 1.23 0.97 0.82 1.29 1.07 1.34  1.12 0.89 1.37 1.01 1.20 0.92 1.09 1.42 0.98 1.25  1.06 1.39 1.14 0.90 1.32 1.02 1.44 1.17 1.26 1.08
q24 nan nan  nan nan nan nan nan nan nan nan nan nan  nan nan nan nan nan nan nan nan nan nan  0.17 0.11 0.21 0.14 0.09 0.19 0.23 0.12 0.16 0.07  0.13 0.20 0.10 0.18 0.24 0.15 0.11 0.22 0.14 0.19  0.16 0.08 0.21 0.12 0.18 0.25 0.13 0.17 0.10 0.20  0.23 0.14 0.19 0.11 0.26 0.16 0.09 0.20 0.13 0.22  0.12 0.18 0.15 0.08 0.21 0.14 0.24 0.11 0.17 0.09  0.19 0.13 0.22 0.16 0.10 0.20 0.14 0.25 0.12 0.18  0.15 0.21 0.11 0.17 0.23 0.13 0.09 0.19 0.16 0.24  0.12 0.20 0.15 0.26 0.14 0.18 0.22 0.11 0.21 0.17  0.14 0.23 0.18 0.10 0.20 0.16 0.25 0.13 0.19 0.15
q25 nan nan  nan nan nan nan nan nan nan nan nan nan  nan nan nan nan nan nan nan nan nan nan  nan nan nan nan nan nan 0.66 0.52 0.74 0.31  0.58 0.80 0.47 0.69 0.55 0.77 0.43 0.64 0.71 0.50  0.83 0.38 0.60 0.72 0.49 0.67 0.85 0.56 0.62 0.45  0.70 0.57 0.88 0.63 0.48 0.76 0.35 0.68 0.59 0.81  0.54 0.73 0.61 0.40 0.51 0.79 0.65 0.86 0.57 0.42  0.64 0.75 0.53 0.82 0.60 0.47 0.78 0.69 0.55 0.73  0.59 0.84 0.66 0.46 0.71 0.58 0.50 0.80 0.63 0.90  0.72 0.61 0.87 0.54 0.76 0.65 0.52 0.91 0.68 0.79  0.62 0.93 0.74 0.56 0.84 0.67 0.96 0.71 0.81 0.66
q26 nan nan  nan nan nan nan nan nan nan nan nan nan  nan nan nan nan nan nan nan nan nan nan  nan nan nan nan nan nan nan nan nan nan  nan nan nan nan nan nan 0.52 0.38 0.57 0.46  0.61 0.29 0.48 0.40 0.55 0.43 0.63 0.36 0.50 0.58  0.44 0.60 0.37 0.53 0.66 0.41 0.27 0.56 0.47 0.62  0.39 0.54 0.45 0.25 0.35 0.59 0.49 0.64 0.42 0.30  0.51 0.43 0.58 0.38 0.62 0.47 0.34 0.56 0.45 0.40  0.57 0.48 0.36 0.31 0.53 0.44 0.39 0.61 0.50 0.65  0.46 0.58 0.41 0.35 0.60 0.52 0.43 0.68 0.49 0.56  0.42 0.63 0.55 0.37 0.66 0.48 0.60 0.52 0.58 0.45
q27 nan nan  nan nan nan nan nan nan nan nan nan nan  nan nan nan nan nan nan nan nan nan nan  nan nan nan nan nan nan nan nan nan nan  nan nan nan nan nan nan nan nan nan nan  nan nan nan nan nan 0.95 1.20 0.80 1.05 0.72  1.15 0.88 1.30 0.98 0.76 1.10 0.55 1.02 1.25 0.85  1.08 0.79 0.96 0.60 0.70 1.18 0.92 1.28 0.83 0.65  0.90 1.12 0.78 1.22 0.99 0.74 1.16 0.87 1.05 0.81  1.00 1.32 0.85 0.70 1.13 0.94 0.77 1.24 0.97 1.35  1.06 0.89 1.40 0.82 1.17 1.01 0.86 1.45 0.93 1.21  0.98 1.48 1.09 0.84 1.30 1.03 1.50 1.14 1.26 1.07
q28 nan nan  nan nan nan nan nan nan nan nan nan nan  nan nan nan nan nan nan nan nan nan nan  nan nan nan nan nan nan nan nan nan nan  nan nan nan nan nan nan nan nan nan nan  nan nan nan nan nan nan nan nan nan nan  nan nan nan nan nan nan nan nan 0.34 0.27  0.38 0.25 0.33 0.18 0.24 0.36 0.29 0.41 0.31 0.20  0.30 0.37 0.26 0.40 0.32 0.22 0.39 0.28 0.35 0.27  0.33 0.42 0.29 0.21 0.36 0.30 0.24 0.43 0.32 0.38  0.28 0.35 0.45 0.31 0.39 0.26 0.34 0.47 0.30 0.41  0.36 0.29 0.44 0.25 0.40 0.33 0.48 0.35 0.42 0.31
q29 0.16 0.10  0.07 0.14 0.19 0.09 0.12 0.05 0.17 0.11 0.08 0.15  0.10 0.18 0.06 0.13 0.21 0.09 0.15 0.07 0.12 0.19  0.14 0.08 0.17 0.11 0.06 0.16 0.10 0.20 0.13 0.05  0.11 0.18 0.09 0.15 0.07 0.13 0.19 0.10 0.16 0.08  0.12 0.04 0.14 0.09 0.17 0.11 0.07 0.15 0.10 0.18  0.08 0.16 0.12 0.06 0.14 0.19 0.07 0.11 0.15 0.09  0.13 0.07 0.17 0.05 0.10 0.15 0.12 0.08 0.18 0.06  0.11 0.16 0.09 0.13 0.07 0.17 0.10 0.14 0.08 0.12  0.16 0.06 0.11 0.09 0.15 0.12 0.07 0.18 0.10 0.14  0.09 0.13 0.17 0.07 0.12 0.16 0.08 0.11 0.19 0.10  0.14 0.08 0.12 0.06 0.17 0.10 0.13 0.09 0.15 0.11
q30 nan nan  nan nan nan nan nan 0.21 0.33 0.17 0.28 0.24  0.19 0.30 0.36 0.15 0.26 0.22 0.34 0.18 0.29 0.31  0.23 0.16 0.32 0.27 0.20 0.35 0.14 0.25 0.30 0.11  0.28 0.19 0.33 0.24 0.29 0.16 0.37 0.21 0.27 0.23  0.31 0.13 0.22 0.36 0.18 0.26 0.33 0.20 0.15 0.28  0.24 0.34 0.19 0.29 0.22 0.38 0.12 0.27 0.32 0.17  0.29 0.21 0.25 0.14 0.20 0.33 0.27 0.18 0.35 0.16  0.23 0.31 0.19 0.27 0.34 0.17 0.26 0.22 0.30 0.20  0.35 0.24 0.18 0.15 0.28 0.21 0.31 0.19 0.26 0.37  0.25 0.20 0.32 0.27 0.18 0.36 0.23 0.29 0.21 0.33  0.28 0.19 0.35 0.22 0.30 0.24 0.37 0.20 0.31 0.26
q31 nan nan  nan nan nan nan nan nan nan nan nan nan  nan nan nan nan nan 0.48 0.61 0.36 0.52 0.43  0.57 0.39 0.46 0.64 0.33 0.51 0.42 0.59 0.47 0.24  0.40 0.53 0.62 0.37 0.49 0.44 0.56 0.31 0.50 0.63  0.45 0.27 0.55 0.41 0.60 0.35 0.48 0.58 0.39 0.52  0.62 0.43 0.51 0.38 0.57 0.46 0.29 0.54 0.41 0.65  0.47 0.36 0.58 0.26 0.42 0.50 0.61 0.39 0.53 0.32  0.44 0.56 0.35 0.60 0.48 0.40 0.55 0.63 0.37 0.50  0.58 0.41 0.49 0.33 0.54 0.45 0.38 0.62 0.47 0.56  0.43 0.60 0.52 0.36 0.57 0.48 0.41 0.66 0.50 0.59  0.46 0.64 0.53 0.38 0.61 0.49 0.67 0.55 0.58 0.44
}\TBraw
\pgfplotstabletranspose[colnames from=name]{\TB}{\TBraw}

% ---------- ST: early series (years 1841-1930)
\pgfplotstableread[header=true]{
name 1841 1842 1843 1844 1845 1846 1847 1848 1849 1850 1851 1852 1853 1854 1855 1856 1857 1858 1859 1860 1861 1862 1863 1864 1865 1866 1867 1868 1869 1870 1871 1872 1873 1874 1875 1876 1877 1878 1879 1880 1881 1882 1883 1884 1885 1886 1887 1888 1889 1890 1891 1892 1893 1894 1895 1896 1897 1898 1899 1900 1901 1902 1903 1904 1905 1906 1907 1908 1909 1910 1911 1912 1913 1914 1915 1916 1917 1918 1919 1920 1921 1922 1923 1924 1925 1926 1927 1928 1929 1930
u1 1.01 0.53 1.12 0.85 0.61 0.58 0.60 0.93 0.30  0.12 0.45 0.40 0.55 0.35 0.20 0.42 0.58 0.60 0.48  0.38 0.45 0.28 0.42 0.58 0.55 0.62 0.70 0.50 0.40  0.30 0.32 0.33 0.22 0.30 0.25 0.24 0.26 0.18 0.25  0.12 0.10 0.15 0.30 0.15 0.12 0.30 0.28 0.25 0.15  0.20 0.25 0.15 0.22 0.30 0.25 0.35 0.28 0.30 0.22  0.25 0.35 0.28 0.20 0.32 0.26 0.30 0.22 0.28 0.25  0.22 0.30 0.25 0.18 0.28 0.22 0.30 0.25 0.20 0.28  0.25 0.18 0.22 0.28 0.20 0.25 0.18 0.22 0.28 0.20  0.22
u2 nan nan nan nan nan 0.52 0.55 0.20 0.10  0.15 0.82 0.72 0.45 0.52 0.30 0.15 0.38 0.52 0.55  0.45 0.32 0.42 0.35 0.20 0.22 0.50 0.45 0.25 0.32  0.28 0.32 0.22 0.25 0.18 0.35 0.78 0.55 0.45 0.68  0.48 0.30 0.25 0.48 0.50 0.25 0.28 0.40 0.30 0.35  0.45 0.28 0.35 0.40 0.50 0.35 0.42 0.38 0.55 0.40  0.48 0.42 0.38 0.55 0.45 0.52 0.40 0.48 0.42 0.50  0.45 0.38 0.50 0.42 0.48 0.35 0.45 0.52 0.40 0.46  0.42 0.50 0.38 0.45 0.40 0.48 0.36 0.44 0.40 0.35  0.40
u3 nan nan nan nan nan nan nan nan nan  nan nan nan nan nan nan nan nan nan nan  nan nan nan nan nan nan nan nan nan nan  nan nan nan nan nan nan 0.25 0.28 0.20 0.25  0.15 0.25 0.20 0.22 0.18 0.12 0.25 0.22 0.30 0.20  0.25 0.18 0.22 0.28 0.32 0.25 0.30 0.22 0.28 0.35  0.30 0.38 0.25 0.32 0.28 0.35 0.22 0.30 0.26 0.32  0.28 0.35 0.30 0.22 0.32 0.26 0.30 0.24 0.28 0.20  0.26 0.30 0.22 0.28 0.24 0.30 0.20 0.26 0.22 0.18  0.24
r1 nan nan nan nan nan nan nan nan nan  nan nan nan nan nan nan nan nan nan nan  nan nan nan nan nan nan nan nan nan nan  nan nan nan nan nan nan nan nan nan nan  nan nan nan nan nan nan 1.70 1.10 0.97 1.50  1.75 1.50 0.92 1.00 1.10 1.75 2.50 3.20 3.28 2.70  2.35 3.28 0.15 1.20 1.30 1.60 1.62 1.45 1.55 1.25  1.52 1.45 1.00 1.20 0.85 1.10 0.95 0.80 1.05 0.90  0.75 1.00 0.85 0.70 0.95 0.80 0.72 0.90 0.65 0.80  0.75
u4 nan nan nan nan nan nan nan nan nan  nan nan nan nan nan nan nan nan nan nan  nan nan nan nan nan nan nan nan nan nan  nan nan nan nan nan nan nan nan nan nan  nan nan nan nan nan nan 0.32 0.08 0.10 0.12  0.08 0.05 0.12 0.12 0.11 0.12 0.15 0.25 0.20 0.18  0.25 0.20 0.10 0.15 0.22 0.18 0.25 0.20 0.28 0.22  0.18 0.25 0.15 0.20 0.18 0.24 0.16 0.22 0.15 0.20  0.16 0.22 0.18 0.14 0.20 0.16 0.12 0.18 0.14 0.16  0.15
u5 nan nan nan nan nan nan nan nan nan  nan nan nan nan nan nan nan nan nan nan  nan nan nan nan nan nan nan nan nan nan  nan nan nan nan nan nan nan nan nan nan  nan nan nan nan nan nan 0.55 0.30 0.28 0.35  0.42 0.30 0.22 0.28 0.40 0.35 0.30 0.42 0.48 0.40  0.65 0.55 0.48 0.45 0.62 0.50 0.58 0.42 0.55 0.48  0.60 0.52 0.40 0.58 0.45 0.55 0.62 0.48 0.52 0.58  0.45 0.55 0.48 0.40 0.52 0.45 0.38 0.50 0.42 0.45  0.44
r2 nan nan nan nan nan nan nan nan nan  nan nan nan nan nan nan nan nan nan nan  nan nan nan nan nan nan nan nan nan nan  nan nan nan nan nan nan nan nan nan nan  nan nan nan nan nan nan nan nan nan nan  nan nan nan 0.62 1.00 1.90 2.88 2.70 1.88 1.70  2.00 2.00 1.20 1.15 1.20 1.40 1.30 1.55 1.20 1.35  1.10 1.05 0.85 1.00 0.75 0.95 0.80 0.70 0.90 0.78  0.95 0.65 0.80 0.72 0.60 0.85 0.70 0.62 0.55 0.70  0.68
u6 nan nan nan nan nan nan nan nan nan  nan nan nan nan nan nan nan nan nan nan  nan nan nan nan nan nan nan nan nan nan  nan nan nan nan nan nan nan nan nan nan  nan nan nan nan nan nan nan nan nan nan  nan nan nan nan 0.40 0.55 0.95 0.62 0.45 0.38  0.52 0.70 0.45 0.55 0.48 0.62 0.40 0.58 0.50 0.45  0.58 0.40 0.52 0.65 0.48 0.55 0.42 0.60 0.50 0.55  0.42 0.50 0.62 0.45 0.55 0.40 0.48 0.58 0.40 0.48  0.46
u7 nan nan nan nan nan nan nan nan nan  nan nan nan nan nan nan nan nan nan nan  nan nan nan nan nan nan nan nan nan nan  nan nan nan nan nan nan nan nan nan nan  nan nan nan nan nan nan nan nan nan nan  nan nan nan nan nan nan nan nan nan nan  nan nan 0.95 0.70 1.35 1.50 1.38 1.60 1.40 1.55  1.05 1.48 1.35 0.90 1.20 0.80 1.05 0.85 0.95 0.80  1.10 0.72 0.95 0.85 0.70 1.00 0.78 0.88 0.62 0.75  0.72
u8 nan nan nan nan nan nan nan nan nan  nan nan nan nan nan nan nan nan nan nan  nan nan nan nan nan nan nan nan nan nan  nan nan nan nan nan nan nan nan nan nan  nan nan nan nan nan nan nan nan nan nan  nan nan nan nan nan nan nan nan nan nan  nan nan 0.45 0.38 0.62 0.55 0.70 0.48 0.60 0.52  0.68 0.45 0.58 0.72 0.50 0.62 0.55 0.48 0.65 0.55  0.70 0.48 0.60 0.52 0.66 0.45 0.58 0.62 0.50 0.55  0.52
u9 nan nan nan nan nan nan nan nan nan  nan nan nan nan nan nan nan nan nan nan  nan nan nan nan nan nan nan nan nan nan  nan nan nan nan nan nan nan nan nan nan  nan nan nan nan nan nan nan nan nan nan  nan nan nan nan nan nan nan nan nan nan  nan nan nan nan nan nan nan nan nan nan  nan nan nan nan 1.45 1.05 0.80 1.25 0.95 1.10  0.85 1.40 0.90 1.05 1.72 0.95 1.15 1.85 0.85 1.00  0.95
u10 nan nan nan nan nan nan nan nan nan  nan nan nan nan nan nan nan nan nan nan  nan nan nan nan nan nan nan nan nan nan  nan nan nan nan nan nan nan nan nan nan  nan nan nan nan nan nan nan nan nan nan  nan nan nan nan nan nan nan nan nan nan  nan nan nan nan nan nan nan nan nan nan  nan nan nan nan nan nan 0.60 0.45 0.72 0.55  0.80 0.48 0.65 0.95 0.58 0.70 1.30 0.62 0.50 0.68  0.60
u11 nan nan nan nan nan nan nan nan nan  nan nan nan nan nan nan nan nan nan nan  nan nan nan nan nan nan nan nan nan nan  nan nan nan nan nan nan nan nan nan nan  nan nan nan nan nan nan nan nan nan nan  nan nan nan nan nan nan nan nan nan nan  nan nan nan nan nan nan nan nan nan nan  nan nan nan nan nan nan nan nan nan 0.90  1.20 0.75 1.45 0.85 1.00 1.15 0.80 1.05 0.70 0.92  0.88
u12 nan nan nan nan nan nan nan nan nan  nan nan nan nan nan nan nan nan nan nan  nan nan nan nan nan nan nan nan nan nan  nan nan nan nan nan nan nan nan nan nan  nan nan nan nan nan nan nan nan nan nan  nan nan nan nan nan nan nan nan nan nan  nan nan nan 0.22 0.31 0.17 0.27 0.35 0.20 0.29  0.24 0.16 0.33 0.21 0.28 0.38 0.19 0.26 0.31 0.15  0.27 0.22 0.34 0.18 0.30 0.25 0.14 0.29 0.23 0.20  0.26
u13 nan nan nan nan nan nan nan nan nan  nan nan nan nan nan nan nan nan nan nan  nan nan nan nan nan nan nan nan nan nan  nan nan nan nan nan nan nan nan nan nan  nan nan nan nan nan nan nan nan nan nan  nan nan nan nan nan nan nan nan nan nan  nan nan nan 0.42 0.30 0.55 0.36 0.48 0.61 0.39  0.52 0.34 0.45 0.58 0.31 0.47 0.40 0.63 0.37 0.50  0.44 0.56 0.33 0.49 0.41 0.60 0.35 0.46 0.53 0.32  0.43
}\SAraw
\pgfplotstabletranspose[colnames from=name]{\SA}{\SAraw}

% ---------- ST: later series (years 1928-2013)
\pgfplotstableread[header=true]{
name 1928 1929 1930 1931 1932 1933 1934 1935 1936 1937 1938 1939 1940 1941 1942 1943 1944 1945 1946 1947 1948 1949 1950 1951 1952 1953 1954 1955 1956 1957 1958 1959 1960 1961 1962 1963 1964 1965 1966 1967 1968 1969 1970 1971 1972 1973 1974 1975 1976 1977 1978 1979 1980 1981 1982 1983 1984 1985 1986 1987 1988 1989 1990 1991 1992 1993 1994 1995 1996 1997 1998 1999 2000 2001 2002 2003 2004 2005 2006 2007 2008 2009 2010 2011 2012 2013
v1 1.85 1.20  0.95 1.35 1.05 0.90 0.75 1.00 0.85 0.80 1.10 1.25  1.75 0.85 0.95 0.80 0.90 0.70 1.05 0.75 0.65 0.85  0.60 0.90 0.70 0.95 0.80 1.10 0.85 1.05 1.55 1.25  1.50 1.40 1.00 0.75 0.90 0.80 1.05 0.70 0.95 0.85  0.80 1.00 1.60 0.90 1.05 0.85 0.95 1.55 1.40 1.10  1.30 1.98 1.50 0.95 1.10 1.40 0.90 1.65 1.45 1.20  0.95 1.20 0.85 1.30 1.00 0.80 1.05 1.30 0.90 1.25  0.80 0.95 0.70 0.85 0.75 0.90 0.65 1.48 0.80 0.95  0.88 0.82 0.75 1.45
v2 0.90 0.75  0.60 1.00 0.85 1.25 0.70 0.95 0.80 0.65 0.90 1.20  0.95 0.60 1.15 0.85 1.00 0.75 0.90 0.65 0.80 0.95  0.70 0.85 0.60 0.95 1.05 0.80 0.65 0.90 1.45 1.20  0.85 1.50 1.40 0.70 0.65 0.95 0.80 1.05 0.90 0.60  0.75 0.95 0.85 1.10 1.20 0.80 1.00 0.90 1.50 1.30  0.95 1.55 1.20 0.85 1.30 0.95 0.80 1.60 1.50 1.00  0.80 1.25 0.75 0.95 1.15 0.85 0.70 1.20 0.85 1.05  0.70 0.85 0.95 0.65 0.90 0.75 0.85 0.70 0.90 0.85  0.75 0.80 0.70 0.72
v3 0.55 0.40  0.45 0.70 0.55 0.62 0.50 0.75 0.45 0.58 0.52 0.68  0.85 0.40 0.60 0.50 0.72 0.55 0.65 0.48 0.55 0.42  0.50 0.62 0.45 0.70 0.58 0.78 0.50 0.65 0.90 0.72  0.80 0.60 0.75 0.45 0.52 1.35 0.68 0.55 0.70 0.48  0.55 0.72 0.62 0.80 0.65 0.58 0.75 0.62 0.85 0.70  0.78 0.92 0.70 0.60 0.75 0.68 0.55 0.80 0.72 0.85  0.62 0.75 0.58 0.70 0.80 0.55 0.50 0.72 0.60 0.78  0.55 0.68 0.60 0.48 0.70 0.52 0.62 0.58 0.55 0.65  0.60 0.52 0.66 0.58
v4 0.60 0.35  0.50 0.45 0.60 0.40 0.55 0.48 0.38 0.52 0.45 0.60  0.55 0.30 0.48 0.40 0.52 0.45 0.58 0.35 0.42 0.50  0.38 0.52 0.44 0.60 0.48 0.55 0.40 0.58 0.65 0.50  0.62 0.48 0.55 0.35 0.40 0.52 0.45 0.60 0.50 0.38  0.45 0.55 0.50 0.62 0.48 0.55 0.60 0.50 0.68 0.58  0.62 0.75 0.55 0.48 0.60 0.52 0.45 0.65 0.58 0.70  0.55 0.60 0.48 0.58 0.66 0.45 0.40 0.62 0.50 0.65  0.45 0.55 0.50 0.40 0.58 0.45 0.52 0.48 0.44 0.55  0.50 0.45 0.55 0.48
v5 0.42 0.28  0.36 0.47 0.25 0.39 0.31 0.50 0.33 0.27 0.44 0.38  0.30 0.21 0.41 0.35 0.48 0.26 0.37 0.43 0.29 0.40  0.46 0.32 0.24 0.42 0.37 0.28 0.51 0.34 0.45 0.30  0.39 0.49 0.27 0.36 0.23 0.44 0.31 0.40 0.52 0.29  0.35 0.26 0.43 0.38 0.48 0.33 0.28 0.46 0.37 0.55  0.41 0.58 0.32 0.44 0.36 0.50 0.30 0.47 0.39 0.53  0.34 0.45 0.29 0.40 0.49 0.31 0.27 0.43 0.36 0.48  0.30 0.41 0.35 0.25 0.44 0.33 0.38 0.28 0.40 0.32  0.37 0.29 0.43 0.34
v6 0.20 0.27  0.18 0.24 0.31 0.16 0.26 0.21 0.29 0.14 0.23 0.30  0.25 0.12 0.19 0.28 0.17 0.32 0.22 0.15 0.27 0.20  0.16 0.26 0.33 0.19 0.24 0.13 0.29 0.21 0.17 0.34  0.23 0.18 0.28 0.12 0.25 0.20 0.30 0.16 0.22 0.14  0.27 0.19 0.24 0.31 0.15 0.26 0.21 0.33 0.18 0.29  0.22 0.35 0.26 0.17 0.28 0.19 0.31 0.23 0.36 0.20  0.29 0.16 0.25 0.32 0.21 0.18 0.27 0.30 0.17 0.24  0.19 0.28 0.22 0.14 0.26 0.18 0.31 0.20 0.16 0.25  0.21 0.27 0.17 0.23
v7 0.14 0.09  0.12 0.07 0.15 0.10 0.06 0.13 0.09 0.16 0.08 0.11  0.14 0.05 0.10 0.13 0.07 0.12 0.16 0.09 0.06 0.11  0.08 0.13 0.10 0.15 0.07 0.12 0.05 0.11 0.14 0.09  0.13 0.08 0.11 0.06 0.10 0.15 0.09 0.12 0.07 0.05  0.10 0.14 0.08 0.12 0.16 0.09 0.11 0.07 0.13 0.10  0.15 0.09 0.12 0.06 0.11 0.08 0.14 0.10 0.07 0.13  0.09 0.12 0.06 0.10 0.14 0.08 0.05 0.11 0.09 0.13  0.07 0.11 0.09 0.05 0.12 0.08 0.10 0.06 0.09 0.11  0.08 0.06 0.10 0.07
v8 nan nan  nan 1.25 0.85 1.20 0.70 0.90 0.62 0.95 0.75 0.55  1.25 0.70 1.15 0.60 0.90 1.00 0.65 1.05 0.85 0.55  0.75 0.60 0.88 0.50 0.70 1.10 0.55 0.80 0.65 0.95  0.70 1.15 0.60 0.85 0.55 0.75 1.05 0.62 0.90 0.68  0.85 1.05 0.58 0.75 0.95 1.15 0.70 0.88 0.62 0.80  1.05 0.75 1.20 0.65 0.90 0.70 1.10 0.80 0.95 0.60  1.00 0.70 0.85 0.62 0.95 1.20 0.75 0.90 0.68 1.05  0.60 0.90 0.72 0.55 0.85 0.65 0.80 0.60 0.75 0.92  0.70 0.85 0.62 0.80
v9 nan nan  nan nan nan nan nan nan 0.55 0.40 0.62 0.48  0.70 0.35 0.52 0.45 0.60 0.38 0.55 0.42 0.50 0.36  0.48 0.58 0.40 0.65 0.45 0.52 0.38 0.60 0.72 0.46  0.55 0.42 0.62 0.36 0.48 0.58 0.44 0.66 0.50 0.40  0.52 0.60 0.46 0.70 0.50 0.44 0.62 0.48 0.75 0.55  0.60 0.82 0.52 0.45 0.68 0.55 0.42 0.70 0.62 0.50  0.65 0.48 0.58 0.72 0.50 0.42 0.60 0.68 0.45 0.62  0.42 0.55 0.60 0.38 0.52 0.46 0.58 0.44 0.40 0.50  0.46 0.52 0.42 0.48
v10 nan nan  nan nan nan nan nan nan nan nan nan nan  0.40 0.20 0.32 0.26 0.38 0.30 0.36 0.24 0.30 0.34  0.28 0.36 0.30 0.42 0.32 0.38 0.26 0.40 0.46 0.34  0.40 0.30 0.36 0.22 0.28 0.38 0.32 0.42 0.34 0.24  0.30 0.38 0.34 0.44 0.32 0.36 0.42 0.34 0.48 0.40  0.44 0.52 0.38 0.32 0.42 0.36 0.30 0.46 0.40 0.48  0.38 0.42 0.32 0.40 0.46 0.30 0.26 0.44 0.34 0.46  0.30 0.38 0.34 0.26 0.40 0.30 0.36 0.32 0.28 0.38  0.34 0.30 0.38 0.32
v11 nan nan  nan nan nan nan nan nan nan nan nan nan  nan nan nan nan nan nan nan nan nan nan  nan nan nan 0.80 0.60 1.15 0.70 0.95 1.55 1.30  0.95 1.45 0.75 1.00 1.35 0.70 0.90 0.85 1.10 0.65  0.90 0.75 1.05 0.80 1.20 0.70 0.95 1.50 1.10 0.85  1.00 1.35 1.55 0.90 1.20 0.80 1.05 1.40 1.65 0.95  1.10 0.85 1.30 0.70 0.95 1.15 0.80 1.00 1.25 0.75  0.90 0.70 1.05 0.80 0.75 0.95 0.70 0.85 0.65 0.80  0.90 0.70 0.78 0.85
v12 nan nan  nan nan nan nan nan nan nan nan nan nan  nan nan nan nan nan nan nan nan nan nan  nan nan nan 0.22 0.18 0.28 0.20 0.25 0.32 0.24  0.28 0.22 0.26 0.15 0.18 0.25 0.20 0.28 0.22 0.16  0.20 0.24 0.22 0.28 0.20 0.24 0.27 0.22 0.30 0.25  0.28 0.32 0.24 0.20 0.26 0.22 0.18 0.28 0.25 0.30  0.24 0.26 0.20 0.24 0.28 0.19 0.16 0.27 0.21 0.28  0.19 0.24 0.22 0.17 0.25 0.20 0.23 0.20 0.18 0.24  0.22 0.19 0.24 0.20
v13 nan nan  nan nan nan nan nan nan nan nan nan nan  nan nan nan nan nan nan nan nan nan nan  nan nan nan 0.60 0.45 0.70 0.55 0.85 0.65 0.95  1.50 0.75 0.55 0.80 0.60 1.00 0.70 0.52 0.85 0.62  0.55 0.90 0.68 0.75 0.58 0.92 0.65 0.80 0.62 0.95  0.70 0.85 0.60 0.92 0.66 1.15 0.75 0.68 0.90 0.62  0.80 0.60 0.75 0.95 0.58 0.70 0.88 0.65 0.72 0.55  0.62 0.78 0.55 0.70 0.50 0.68 0.60 0.72 0.52 0.65  0.58 0.70 0.55 0.62
v14 nan nan  0.75 1.05 0.90 1.15 0.70 0.95 1.10 0.80 0.95 0.85  1.10 0.60 0.90 0.75 1.00 0.85 0.95 0.70 0.80 0.90  0.75 0.95 0.70 1.15 0.85 0.95 0.70 1.00 1.20 0.90  1.05 0.80 0.90 0.60 0.70 0.95 1.10 0.75 0.90 0.65  0.80 0.95 0.85 1.05 0.90 0.80 1.00 0.85 1.15 1.00  1.10 1.40 1.00 0.85 1.05 0.90 0.80 1.15 1.05 1.25  0.95 1.30 0.85 1.10 1.20 0.80 0.75 1.30 0.85 1.20  0.75 0.90 0.80 0.65 0.95 0.75 0.85 0.70 0.70 0.85  0.80 0.75 0.70 0.75
v15 0.65 0.50  0.55 0.70 0.45 0.60 0.80 0.50 0.65 0.42 0.58 0.72  0.60 0.45 0.68 0.52 0.62 0.75 0.48 0.58 0.44 0.55  0.62 0.48 0.58 0.42 0.66 0.52 0.45 0.70 0.55 0.62  0.50 0.68 0.45 0.55 0.72 0.48 0.60 0.52 0.64 0.42  0.58 0.66 0.50 0.62 0.45 0.70 0.55 0.60 0.48 0.66  0.52 0.72 0.60 0.55 0.68 0.48 0.62 0.58 0.74 0.55  0.60 0.52 0.70 0.48 0.64 0.56 0.45 0.62 0.58 0.68  0.50 0.62 0.55 0.45 0.60 0.52 0.58 0.48 0.55 0.62  0.52 0.58 0.48 0.55
v16 nan 0.55  0.42 0.66 0.48 0.72 0.39 0.58 0.51 0.69 0.44 0.60  0.75 0.36 0.53 0.47 0.64 0.41 0.57 0.70 0.45 0.52  0.61 0.38 0.68 0.49 0.56 0.43 0.73 0.40 0.59 0.66  0.48 0.71 0.37 0.54 0.62 0.45 0.80 0.50 0.58 0.35  0.63 0.46 0.57 0.74 0.42 0.67 0.52 0.60 0.78 0.49  0.55 0.69 0.84 0.47 0.61 0.53 0.44 0.72 0.58 0.65  0.50 0.76 0.45 0.59 0.68 0.41 0.54 0.63 0.48 0.70  0.44 0.57 0.65 0.39 0.60 0.48 0.53 0.42 0.58 0.50  0.55 0.46 0.61 0.49
v17 nan nan  0.33 0.24 0.38 0.29 0.21 0.35 0.27 0.40 0.31 0.23  0.36 0.18 0.30 0.25 0.39 0.28 0.22 0.34 0.26 0.37  0.29 0.41 0.24 0.32 0.20 0.35 0.28 0.43 0.30 0.26  0.38 0.27 0.33 0.19 0.25 0.40 0.31 0.23 0.36 0.28  0.24 0.35 0.30 0.42 0.27 0.21 0.38 0.32 0.26 0.44  0.33 0.29 0.46 0.36 0.25 0.39 0.30 0.41 0.34 0.28  0.37 0.26 0.32 0.43 0.29 0.23 0.35 0.40 0.27 0.33  0.25 0.36 0.30 0.22 0.34 0.28 0.39 0.26 0.31 0.24  0.32 0.27 0.35 0.29
v18 nan nan  nan nan 0.85 0.62 0.98 0.70 0.81 1.05 0.66 0.90  0.73 0.55 0.88 0.69 1.02 0.77 0.60 0.94 0.71 0.83  0.64 0.92 0.76 0.58 1.08 0.80 0.67 0.95 0.72 0.87  1.00 0.63 0.79 0.52 0.74 0.91 0.68 1.10 0.82 0.59  0.86 0.70 1.04 0.65 0.78 0.96 0.73 0.84 1.12 0.75  0.69 1.06 0.88 0.62 0.93 0.80 0.71 1.14 0.85 0.97  0.78 0.66 0.99 0.74 0.87 0.61 0.90 0.76 1.03 0.70  0.63 0.82 0.72 0.56 0.89 0.68 0.79 0.65 0.74 0.84  0.70 0.77 0.64 0.81
v19 nan nan  nan nan nan 0.20 0.14 0.23 0.17 0.11 0.21 0.25  0.16 0.09 0.19 0.24 0.13 0.20 0.26 0.15 0.18 0.12  0.22 0.17 0.11 0.24 0.19 0.27 0.13 0.21 0.16 0.23  0.14 0.20 0.25 0.10 0.17 0.22 0.15 0.26 0.19 0.12  0.21 0.16 0.24 0.18 0.13 0.27 0.20 0.15 0.23 0.19  0.25 0.17 0.21 0.12 0.24 0.18 0.14 0.28 0.20 0.22  0.16 0.26 0.19 0.13 0.23 0.17 0.21 0.27 0.14 0.20  0.18 0.13 0.24 0.15 0.20 0.12 0.22 0.16 0.19 0.14  0.21 0.15 0.18 0.13
v20 nan nan  nan nan nan nan 0.68 0.52 0.77 0.59 0.46 0.72  0.63 0.40 0.81 0.55 0.70 0.49 0.66 0.58 0.74 0.44  0.57 0.79 0.51 0.67 0.45 0.73 0.60 0.85 0.54 0.69  0.62 0.48 0.76 0.42 0.58 0.71 0.53 0.64 0.88 0.47  0.70 0.56 0.82 0.61 0.50 0.75 0.65 0.59 0.80 0.68  0.78 0.63 0.92 0.55 0.71 0.60 0.52 0.84 0.66 0.74  0.58 0.81 0.64 0.49 0.77 0.69 0.55 0.86 0.61 0.72  0.53 0.70 0.62 0.45 0.75 0.57 0.68 0.51 0.64 0.59  0.66 0.55 0.71 0.60
v21 nan nan  nan nan nan nan nan nan nan nan 0.44 0.36  0.52 0.27 0.41 0.48 0.33 0.55 0.39 0.46 0.30 0.43  0.38 0.50 0.34 0.57 0.42 0.31 0.47 0.53 0.37 0.45  0.56 0.35 0.44 0.26 0.40 0.51 0.36 0.49 0.43 0.32  0.41 0.54 0.38 0.46 0.59 0.34 0.48 0.42 0.55 0.39  0.47 0.61 0.40 0.35 0.52 0.44 0.37 0.58 0.45 0.50  0.42 0.36 0.53 0.47 0.39 0.56 0.33 0.49 0.44 0.57  0.35 0.46 0.40 0.31 0.50 0.38 0.45 0.34 0.42 0.48  0.39 0.44 0.36 0.43
v22 nan nan  nan nan nan nan nan nan nan nan nan nan  nan nan nan nan nan nan 1.05 0.80 0.98 1.15  0.85 1.02 0.74 0.93 1.20 0.88 0.70 1.10 0.95 1.30  0.92 1.08 0.78 0.68 1.00 0.86 1.15 0.82 1.25 0.76  0.98 0.84 1.12 0.90 0.75 1.18 0.96 1.05 0.80 1.22  1.00 0.87 1.08 0.78 1.28 0.94 0.83 1.16 1.35 0.91  1.10 0.82 1.27 0.95 0.79 1.05 0.88 1.20 0.84 1.00  0.76 0.98 0.86 0.70 1.02 0.80 0.92 0.74 0.88 0.95  0.82 0.90 0.78 0.86
v23 nan nan  nan nan nan nan nan nan nan nan nan nan  nan nan nan nan nan nan nan nan nan nan  nan nan nan 0.31 0.24 0.36 0.20 0.29 0.38 0.26  0.33 0.22 0.30 0.17 0.27 0.35 0.24 0.32 0.39 0.21  0.28 0.36 0.23 0.31 0.26 0.40 0.29 0.22 0.34 0.30  0.37 0.25 0.33 0.19 0.30 0.42 0.27 0.35 0.24 0.32  0.26 0.34 0.41 0.23 0.30 0.21 0.36 0.28 0.33 0.25  0.31 0.22 0.29 0.18 0.34 0.27 0.24 0.32 0.20 0.28  0.25 0.30 0.23 0.27
v24 nan nan  nan nan nan nan nan nan nan nan nan nan  nan nan nan nan nan nan nan nan nan nan  nan nan nan 0.72 0.55 0.84 0.61 0.70 0.92 0.66  0.78 0.58 0.88 0.49 0.64 0.75 0.96 0.60 0.71 0.53  0.67 0.80 0.57 0.90 0.63 0.74 0.52 0.86 0.69 0.77  0.95 0.70 0.82 0.56 0.73 0.62 0.89 0.68 0.98 0.65  0.76 0.59 0.85 0.71 0.93 0.54 0.68 0.81 0.62 0.87  0.58 0.74 0.66 0.50 0.79 0.61 0.70 0.55 0.72 0.64  0.69 0.60 0.75 0.63
v25 0.11 0.07  0.09 0.14 0.06 0.12 0.08 0.16 0.10 0.05 0.13 0.09  0.07 0.12 0.04 0.10 0.15 0.08 0.11 0.06 0.14 0.09  0.12 0.05 0.10 0.08 0.13 0.06 0.11 0.16 0.07 0.10  0.08 0.13 0.06 0.11 0.04 0.09 0.14 0.07 0.12 0.10  0.06 0.11 0.15 0.08 0.10 0.05 0.13 0.09 0.07 0.14  0.10 0.07 0.12 0.09 0.05 0.13 0.08 0.11 0.15 0.06  0.12 0.08 0.10 0.05 0.11 0.14 0.07 0.09 0.06 0.12  0.09 0.05 0.11 0.07 0.08 0.12 0.04 0.10 0.07 0.09  0.06 0.10 0.05 0.08
v26 nan nan  0.23 0.15 0.28 0.19 0.32 0.14 0.25 0.21 0.17 0.29  0.18 0.11 0.26 0.22 0.15 0.30 0.19 0.24 0.13 0.27  0.21 0.16 0.29 0.13 0.25 0.20 0.31 0.17 0.23 0.14  0.27 0.19 0.12 0.22 0.16 0.28 0.21 0.14 0.30 0.18  0.15 0.24 0.20 0.13 0.29 0.22 0.17 0.26 0.19 0.31  0.24 0.16 0.33 0.21 0.18 0.27 0.14 0.23 0.29 0.20  0.17 0.28 0.22 0.15 0.26 0.19 0.13 0.24 0.30 0.18  0.21 0.14 0.25 0.18 0.12 0.23 0.19 0.16 0.22 0.15  0.19 0.24 0.16 0.21
v27 nan nan  nan nan nan nan nan 0.38 0.27 0.44 0.31 0.36  0.42 0.22 0.33 0.47 0.29 0.39 0.26 0.45 0.35 0.30  0.28 0.43 0.37 0.24 0.40 0.32 0.48 0.27 0.41 0.34  0.46 0.30 0.38 0.21 0.33 0.44 0.36 0.28 0.49 0.25  0.34 0.41 0.29 0.47 0.37 0.31 0.45 0.39 0.27 0.50  0.40 0.33 0.52 0.35 0.43 0.28 0.38 0.46 0.32 0.42  0.36 0.48 0.30 0.40 0.27 0.44 0.34 0.39 0.47 0.31  0.33 0.42 0.26 0.37 0.45 0.29 0.40 0.32 0.36 0.28  0.38 0.31 0.43 0.34
v28 nan nan  nan nan nan nan nan nan nan nan nan nan  0.17 0.08 0.13 0.19 0.11 0.16 0.21 0.10 0.14 0.18  0.12 0.20 0.15 0.09 0.18 0.13 0.22 0.11 0.16 0.19  0.14 0.10 0.17 0.08 0.12 0.21 0.15 0.19 0.11 0.09  0.16 0.13 0.20 0.12 0.18 0.10 0.15 0.22 0.14 0.17  0.19 0.11 0.16 0.14 0.09 0.20 0.13 0.18 0.23 0.12  0.15 0.21 0.10 0.17 0.13 0.19 0.08 0.16 0.12 0.20  0.14 0.09 0.18 0.11 0.16 0.13 0.10 0.17 0.12 0.15  0.11 0.16 0.09 0.13
}\SBraw
\pgfplotstabletranspose[colnames from=name]{\SB}{\SBraw}

\pgfplotsset{
  blkline/.style={draw=blk, line width=1.4pt, line join=round, mark=none},
  redline/.style={draw=redc, line width=3.9pt, line join=round, line cap=round, mark=none},
  greenline/.style={draw=greenc, line width=3.5pt, line join=round, line cap=round, mark=none},
  base/.style={anchor=south west, scale only axis, ymin=0, unbounded coords=jump,
    /pgf/number format/1000 sep={}, /pgf/number format/assume math mode=true,
    tick label style={font=\tf, text=black}},
  topbase/.style={base, at={(35.79pt,-269.19pt)}, width=501pt, height=261.54pt,
    xmin=1790, xmax=2009, tick align=center, major tick length=6pt,
    axis line style={-, line width=0.6pt, draw=black}, tick style={line width=0.6pt, black}},
  botbase/.style={base, at={(36.6pt,-597.9pt)}, width=500.7pt, height=270.3pt,
    xmin=1841, xmax=2013.4, tick align=outside, major tick length=4.2pt,
    axis line style={-, line width=1.1pt, draw=gax}, tick style={line width=1.1pt, gax}},
}

\begin{document}
\begin{tikzpicture}
\useasboundingbox (0,0) rectangle (576.9pt,-633.3pt);

% ================= TOP (TB) =================
\begin{axis}[topbase, ymax=4, axis x line*=bottom, axis y line*=left,
  xtick={1790,1800,...,2000}, ytick={0,1,2,3,4},
  xticklabel style={yshift=-4pt}, yticklabel style={xshift=-4pt}]
\pgfplotsinvokeforeach{a,b,c,d,e,f,g,h,i,j,k,l,m,n,o,p}{\addplot[blkline] table[x=colnames,y=#1]{\TA};}
\pgfplotsinvokeforeach{q1,q2,q3,q4,q5,q6,q7,q8,q9,q10,q11,q12,q13,q14,q15,q16,q17,q18,q19,q20,q21,q22,q23,q24,q25,q26,q27,q28,q29,q30,q31}{\addplot[blkline] table[x=colnames,y=#1]{\TB};}
\end{axis}

\begin{axis}[topbase, ymax=60, axis y line*=right, axis x line=none,
  ytick={0,10,...,60}, yticklabel style={xshift=5pt}]
\addplot[redline] table {
1790 1
1820 1
1821.5 3
1834.3 3
1835.5 4
1843.5 4
1844.6 5
1852.7 5
1853.5 6
1857.5 6
1859 8
1864 8
1865.5 9
1866.5 10
1870 10
1870.8 11
1873.9 11
1874.8 12
1880.4 12
1881.8 14
1883 14
1884.4 16
1897.2 16
1898.4 19
1899.2 19
1900 20
1901.5 21
1903.4 23
1905 25
1908.6 25
1909.4 26
1912.7 26
1913.5 27
1917.5 27
1918.3 28
1919.5 28
1922.3 31
1925 31
1926.3 32
1931.2 32
1932.4 33
1934.8 33
1936.4 35
1939.6 35
1940.4 36
1943.7 36
1944.5 37
1946.9 37
1947.7 38
1949.3 39
1950.9 39
1952.1 44
1953.3 44
1954.1 45
1955.3 47
1956.9 47
1958.1 48
1961.4 48
1962.6 49
1970.2 49
1971.4 51
2007.3 51
2008.5 41
};
\end{axis}

\begin{axis}[topbase, ymax=4, hide axis]
\addplot[greenline] table {
1790 0.45
1791 0.50
1792 0.56
1793 0.60
1794 0.37
1795 0.46
1796 1.28
1797 0.31
1798 0.43
1799 0.84
1800 0.81
1801 0.61
1802 0.49
1803 0.56
1804 0.50
1805 0.56
1806 0.71
1807 0.50
1808 0.42
1809 0.53
1810 0.42
1811 0.90
1812 1.00
1813 1.00
1814 0.49
1815 0.84
1816 0.77
1817 0.69
1818 0.44
1819 0.28
1820 0.43
1821 0.59
1822 0.72
1823 0.61
1824 0.34
1825 0.28
1826 0.43
1827 0.55
1828 0.39
1829 0.46
1830 0.39
1831 0.72
1832 0.78
1833 0.83
1834 0.61
1835 0.58
1836 0.50
1837 0.55
1838 0.49
1839 0.46
1840 0.49
1841 0.37
1842 0.44
1843 0.39
1844 0.42
1845 0.44
1846 0.50
1847 0.43
1848 0.36
1849 0.30
1850 0.23
1851 0.30
1852 0.34
1853 0.53
1854 0.53
1855 0.53
1856 0.46
1857 0.66
1858 0.55
1859 0.71
1860 0.71
1861 0.64
1862 0.74
1863 0.58
1864 0.65
1865 0.66
1866 0.62
1867 0.58
1868 0.49
1869 0.47
1870 0.46
1871 0.43
1872 0.36
1873 0.46
1874 0.55
1875 0.42
1876 0.46
1877 0.52
1878 0.71
1879 0.93
1880 0.77
1881 0.80
1882 0.83
1883 0.72
1884 0.83
1885 0.78
1886 0.72
1887 0.66
1888 0.62
1889 0.55
1890 0.53
1891 0.53
1892 0.46
1893 0.39
1894 0.49
1895 0.55
1896 0.55
1897 0.58
1898 0.90
1899 0.93
1900 0.88
1901 0.90
1902 0.81
1903 0.87
1904 0.78
1905 0.72
1906 0.65
1907 0.62
1908 0.66
1909 0.77
1910 0.75
1911 0.63
1912 0.74
1913 0.56
1914 0.85
1915 0.87
1916 1.02
1917 0.68
1918 0.75
1919 0.69
1920 0.84
1921 0.80
1922 0.75
1923 0.69
1924 0.62
1925 0.71
1926 0.61
1927 0.80
1928 0.58
1929 0.31
1930 0.61
1931 0.85
1932 0.77
1933 0.77
1934 0.63
1935 0.68
1936 0.77
1937 0.62
1938 0.75
1939 0.85
1940 0.88
1941 0.50
1942 0.66
1943 0.53
1944 0.72
1945 0.81
1946 0.97
1947 0.69
1948 0.72
1949 0.56
1950 0.81
1951 0.81
1952 0.83
1953 0.80
1954 0.63
1955 0.74
1956 0.40
1957 0.71
1958 0.68
1959 0.84
1960 0.69
1961 0.78
1962 0.58
1963 0.37
1964 0.37
1965 0.53
1966 0.62
1967 0.61
1968 0.56
1969 0.39
1970 0.42
1971 0.49
1972 0.59
1973 0.53
1974 0.56
1975 0.53
1976 0.46
1977 0.66
1978 0.61
1979 0.50
1980 0.49
1981 0.62
1982 0.50
1983 0.62
1984 0.52
1985 0.44
1986 0.40
1987 0.50
1988 0.39
1989 0.56
1990 0.56
1991 0.72
1992 0.74
1993 0.47
1994 0.81
1995 0.81
1996 0.58
1997 0.68
1998 0.81
1999 0.87
2000 0.77
2001 1.02
2002 0.94
2003 0.58
2004 0.83
2005 0.84
2006 0.63
2007 0.99
2008 0.94
2009 0.84
};
\end{axis}

% ================= BOTTOM (ST) =================
\begin{axis}[botbase, ymax=4, axis x line*=bottom, axis y line*=left,
  xtick={1841,1851,...,2011},
  ytick={0,0.8,1.6,2.4,3.2,4}, yticklabels={0,,,,,4},
  extra y ticks={1,2,3}, extra y tick labels={1,2,3},
  extra y tick style={major tick length=0pt, tick style={draw=none}},
  xticklabel style={yshift=-2pt}, yticklabel style={xshift=-4pt}]
\pgfplotsinvokeforeach{u1,u2,u3,r1,u4,u5,r2,u6,u7,u8,u9,u10,u11,u12,u13}{\addplot[blkline] table[x=colnames,y=#1]{\SA};}
\pgfplotsinvokeforeach{v1,v2,v3,v4,v5,v6,v7,v8,v9,v10,v11,v12,v13,v14,v15,v16,v17,v18,v19,v20,v21,v22,v23,v24,v25,v26,v27,v28}{\addplot[blkline] table[x=colnames,y=#1]{\SB};}
\end{axis}

\begin{axis}[botbase, ymax=40, axis y line*=right, axis x line=none,
  ytick={0,10,...,40}, yticklabel style={xshift=4pt}]
\addplot[redline] table {
1841 1
1844.5 1
1845.4 2
1874.3 2
1875.3 3
1884.2 3
1886.4 5
1892.4 5
1893.4 6
1894.7 6
1895.6 7
1897.2 8
1900.7 8
1902 9
1903.2 10
1913.4 10
1915.3 12
1916.2 12
1919.7 16
1921 17
1922.3 17
1924.1 18
1925 18
1926.3 19
1927.3 21
1928.9 23
1929.9 23
1930.6 26
1936.2 32
1937.5 32
1938.5 34
1939.4 34
1940.4 35
1952.4 35
1953.4 37
2013.3 37
};
\end{axis}

\begin{axis}[botbase, ymax=4, hide axis]
\addplot[greenline] table {
1841 1.01
1842 0.53
1843 1.12
1844 0.85
1845 0.61
1846 0.53
1847 0.59
1848 0.35
1849 0.49
1850 0.56
1851 0.43
1852 0.44
1853 0.32
1854 0.25
1855 0.32
1856 0.38
1857 0.46
1858 0.41
1859 0.35
1860 0.47
1861 0.31
1862 0.35
1863 0.37
1864 0.34
1865 0.41
1866 0.32
1867 0.53
1868 0.43
1869 0.38
1870 0.28
1871 0.28
1872 0.25
1873 0.32
1874 0.40
1875 0.49
1876 0.38
1877 0.43
1878 0.38
1879 0.30
1880 0.25
1881 0.17
1882 0.23
1883 0.31
1884 0.17
1885 0.19
1886 0.62
1887 0.37
1888 0.35
1889 0.47
1890 0.58
1891 0.50
1892 0.32
1893 0.43
1894 0.53
1895 0.61
1896 0.68
1897 0.90
1898 1.12
1899 1.00
1900 0.77
1901 0.88
1902 0.98
1903 0.76
1904 0.58
1905 0.83
1906 0.73
1907 0.71
1908 0.73
1909 0.62
1910 0.76
1911 0.64
1912 0.59
1913 0.74
1914 0.67
1915 0.83
1916 0.55
1917 0.73
1918 0.62
1919 0.74
1920 0.58
1921 0.70
1922 0.58
1923 0.70
1924 0.58
1925 0.67
1926 0.59
1927 0.73
1928 0.76
1929 0.53
1930 0.53
1931 0.37
1932 0.49
1933 0.62
1934 0.59
1935 0.49
1936 0.38
1937 0.46
1938 0.37
1939 0.56
1940 0.50
1941 0.32
1942 0.41
1943 0.41
1944 0.44
1945 0.37
1946 0.46
1947 0.41
1948 0.29
1949 0.37
1950 0.31
1951 0.38
1952 0.37
1953 0.32
1954 0.50
1955 0.32
1956 0.46
1957 0.34
1958 0.46
1959 0.50
1960 0.38
1961 0.47
1962 0.52
1963 0.44
1964 0.31
1965 0.41
1966 0.40
1967 0.31
1968 0.46
1969 0.46
1970 0.44
1971 0.38
1972 0.29
1973 0.50
1974 0.37
1975 0.40
1976 0.44
1977 0.50
1978 0.40
1979 0.53
1980 0.49
1981 0.65
1982 0.59
1983 0.49
1984 0.43
1985 0.59
1986 0.44
1987 0.56
1988 0.61
1989 0.59
1990 0.50
1991 0.38
1992 0.64
1993 0.41
1994 0.58
1995 0.55
1996 0.34
1997 0.52
1998 0.55
1999 0.50
2000 0.53
2001 0.32
2002 0.46
2003 0.38
2004 0.26
2005 0.40
2006 0.43
2007 0.40
2008 0.25
2009 0.32
2010 0.35
2011 0.41
2012 0.31
2013 0.38
};
\end{axis}

% ================= text =================
\node[font=\tf, rotate=90] at (10.9pt,-138.6pt) {Tree-ring width (mm)};
\node[font=\tf, rotate=90] at (566.5pt,-137.4pt) {No. of samples};
\node[font=\tf] at (276.4pt,-295.8pt) {Years};
\node[font=\fontsize{10}{12}\selectfont] at (286.4pt,-37.8pt) {TB};
\node[font=\tf, rotate=90] at (10.9pt,-462.8pt) {Tree-ring width (mm)};
\node[font=\tf, rotate=90] at (566.5pt,-462.7pt) {No. of samples};
\node[font=\tf] at (276.4pt,-625.6pt) {Years};
\node[font=\fontsize{10}{12}\selectfont] at (286.1pt,-368.2pt) {ST};
\end{tikzpicture}
\end{document}
